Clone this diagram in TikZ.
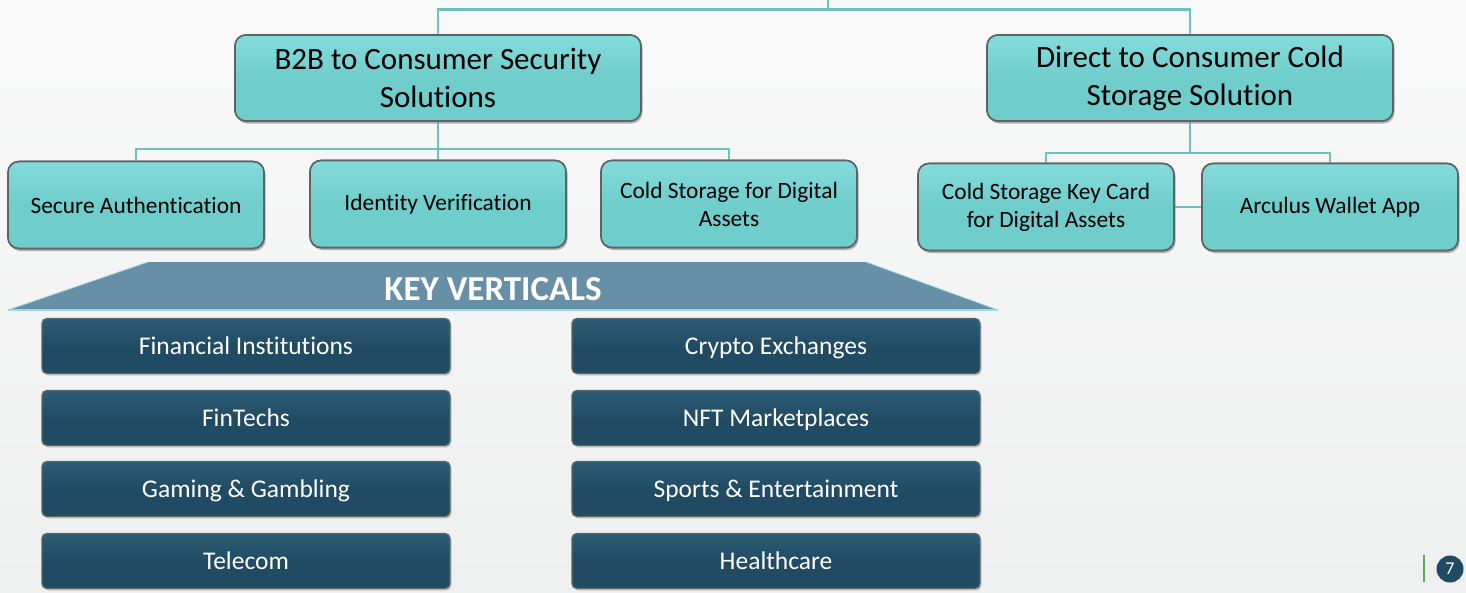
\documentclass[tikz,border=0pt]{standalone}
\usepackage{fontspec}
\setmainfont[Ligatures=NoCommon]{Carlito}
\usetikzlibrary{shadows,calc}
\definecolor{teal1}{HTML}{6FCDCC}
\definecolor{teal2}{HTML}{84DCDB}
\definecolor{tealline}{HTML}{6CC0C0}
\definecolor{navy}{HTML}{204B63}
\definecolor{navytop}{HTML}{2D5D76}
\definecolor{banner}{HTML}{678FA6}
\definecolor{bannerline}{HTML}{9ADCDC}
\definecolor{edge}{HTML}{5C6466}
\definecolor{bgtop}{HTML}{F9F9F9}
\definecolor{bgbot}{HTML}{EEEFEF}
\definecolor{pagegreen}{HTML}{5BAA5B}
\tikzset{
  conn/.style={draw=tealline, line width=2.6pt},
  tbox/.style={draw=edge, line width=1.6pt, rounded corners=11pt,
    top color=teal2, bottom color=teal1, middle color=teal1,
    drop shadow={opacity=0.35, shadow xshift=1.5pt, shadow yshift=-2.5pt},
    align=center, inner sep=2pt, text=black},
  bigbox/.style={tbox, minimum width=406pt, minimum height=86pt,
    font=\fontsize{31}{38}\selectfont},
  smallbox/.style={tbox, minimum width=256pt, minimum height=87pt,
    font=\fontsize{23.4}{28}\selectfont},
  vbox/.style={draw=edge, line width=1.4pt, rounded corners=5pt,
    top color=navytop, bottom color=navy, middle color=navy,
    drop shadow={opacity=0.35, shadow xshift=1.5pt, shadow yshift=-2pt},
    minimum width=408pt, minimum height=55pt, text=white,
    text height=20pt, text depth=4pt,
    font=\fontsize{25.5}{28}\selectfont},
}
\begin{document}
\begin{tikzpicture}[x=1pt, y=-1pt]
  % canvas
  \shade[top color=bgtop, bottom color=bgbot] (0,0) rectangle (1466,592);
  \useasboundingbox (0,0) rectangle (1466,592);

  % top level
  \node[bigbox] (b2b) at (438,78) {B2B to Consumer Security\\Solutions};
  \node[bigbox] (dtc) at (1190,78) {Direct to Consumer Cold\\Storage Solution};
  \coordinate (root) at (828,0);

  % second level
  \node[smallbox] (sa) at (136,205) {Secure Authentication};
  \node[smallbox] (iv) at (438,204) {Identity Verification};
  \node[smallbox] (cs) at (729,204) {Cold Storage for Digital\\Assets};
  \node[smallbox] (kc) at (1046,207) {Cold Storage Key Card\\for Digital Assets};
  \node[smallbox] (wa) at (1330,207) {Arculus Wallet App};

  % connectors
  \draw[conn] (root) -- ++(0,10);
  \draw[conn] (b2b.north) -- ++(0,-25) -| (dtc.north);
  \draw[conn] (b2b.south) -- ++(0,27) coordinate (j1);
  \draw[conn] (sa.north) |- (j1) -| (cs.north);
  \draw[conn] (j1) -- (iv.north);
  \draw[conn] (dtc.south) -- ++(0,31) coordinate (j2);
  \draw[conn] (kc.north) |- (j2) -| (wa.north);
  \draw[conn] (kc.east) -- (wa.west);

  % boxes again, over the connector ends
  \node[bigbox] at (b2b) {B2B to Consumer Security\\Solutions};
  \node[bigbox] at (dtc) {Direct to Consumer Cold\\Storage Solution};
  \node[smallbox] at (sa) {Secure Authentication};
  \node[smallbox] at (iv) {Identity Verification};
  \node[smallbox] at (cs) {Cold Storage for Digital\\Assets};
  \node[smallbox] at (kc) {Cold Storage Key Card\\for Digital Assets};
  \node[smallbox] at (wa) {Arculus Wallet App};

  % banner
  \fill[banner] (148,262) -- (866,262) -- (998,310) -- (8,310) -- cycle;
  \draw[bannerline, line width=1.5pt] (8,310) -- (998,310);
  \draw[bannerline, line width=0.8pt] (8,310) -- (148,262);
  \draw[bannerline, line width=0.8pt] (866,262) -- (998,310);
  \node[text=white, font=\fontsize{35}{35}\selectfont\bfseries] (kv) at (493,289) {KEY VERTICALS};

  % verticals
  \node[vbox] (v1) at (246,346) {Financial Institutions};
  \node[vbox] (v2) at (246,418) {FinTechs};
  \node[vbox] (v3) at (246,489) {Gaming \& Gambling};
  \node[vbox] (v4) at (246,561) {Telecom};
  \node[vbox] (v5) at (776,346) {Crypto Exchanges};
  \node[vbox] (v6) at (776,418) {NFT Marketplaces};
  \node[vbox] (v7) at (776,489) {Sports \& Entertainment};
  \node[vbox] (v8) at (776,561) {Healthcare};

  % page marker
  \draw[pagegreen, line width=2.2pt] (1424,555) coordinate (pg1) -- (1424,582) coordinate (pg2);
  \node[circle, fill=navy, minimum size=27pt, inner sep=0pt, text=white,
        font=\fontsize{18}{18}\selectfont] (pg) at (1450,569) {7};
\end{tikzpicture}
\end{document}
